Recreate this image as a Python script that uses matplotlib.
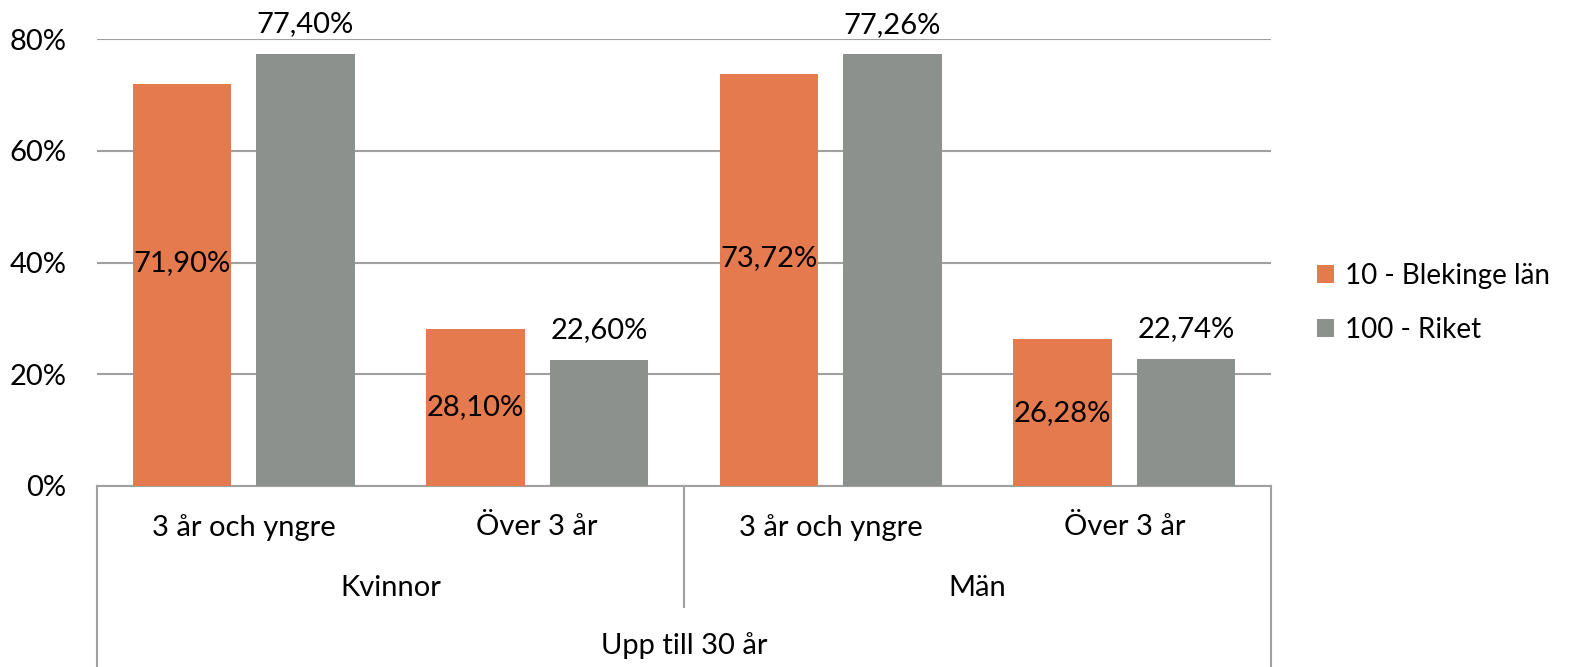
import matplotlib
matplotlib.use("Agg")
import matplotlib.pyplot as plt
import matplotlib.transforms as mtransforms
import numpy as np

# data
categories = ["3 år och yngre", "Över 3 år", "3 år och yngre", "Över 3 år"]
groups = ["Kvinnor", "Män"]
top_group = "Upp till 30 år"
blekinge = [71.90, 28.10, 73.72, 26.28]
riket = [77.40, 22.60, 77.26, 22.74]
series_names = ["10 - Blekinge län", "100 - Riket"]
yticks = [0, 20, 40, 60, 80]

ORANGE = "#E57A4E"
GRAY = "#8C918E"
LINE = "#A0A0A0"

plt.rcParams["font.family"] = ["Lato", "DejaVu Sans"]
plt.rcParams["font.size"] = 21

fig = plt.figure(figsize=(15.71, 6.67), dpi=100)
ax = fig.add_axes([97 / 1571, 1 - 486 / 667, (1271 - 97) / 1571, 447 / 667])

x = np.arange(len(categories))
w = 0.335
off = 0.21
ax.bar(x - off, blekinge, w, color=ORANGE, label=series_names[0], zorder=3)
ax.bar(x + off, riket, w, color=GRAY, label=series_names[1], zorder=3)

fmt = lambda v: "{:.2f}%".format(v).replace(".", ",")
for xi, v in zip(x, blekinge):
    ax.text(xi - off, v / 2 + (4 if v > 50 else 0), fmt(v), ha="center", va="center", zorder=4)
for xi, v in zip(x, riket):
    ax.annotate(fmt(v), (xi + off, v), xytext=(0, 12), textcoords="offset points",
                ha="center", va="bottom", annotation_clip=False)

ax.set_xlim(-0.5, 3.5)
ax.set_ylim(0, 80)
ax.set_yticks(yticks)
ax.set_yticklabels(["{}%".format(t) for t in yticks])
ax.tick_params(axis="y", length=0, pad=22)
ax.tick_params(axis="x", length=0)
ax.set_xticks([])
ax.yaxis.grid(True, color=LINE, linewidth=1.5, zorder=0)
for s in ["top", "right", "left"]:
    ax.spines[s].set_visible(False)
ax.spines["bottom"].set_color(LINE)
ax.spines["bottom"].set_linewidth(1.5)

# multi-level category axis
trans = mtransforms.blended_transform_factory(ax.transData, ax.transAxes)
for xi, c in zip(x, categories):
    ax.text(xi, -0.092, c, transform=trans, ha="center", va="center")
for gi, g in enumerate(groups):
    ax.text(gi * 2 + 0.5, -0.228, g, transform=trans, ha="center", va="center")
ax.text(1.5, -0.356, top_group, transform=trans, ha="center", va="center")
for xv, yb in [(-0.5, -0.41), (1.5, -0.271), (3.5, -0.41)]:
    ax.plot([xv, xv], [0, yb], transform=trans, color=LINE, linewidth=1.5, clip_on=False)

ax.legend(loc="center left", bbox_to_anchor=(1.03, 0.41), borderaxespad=0, frameon=False,
          fontsize=20, handlelength=0.6, handleheight=0.6, handletextpad=0.4, labelspacing=1.0)

fig.savefig("out.png", dpi=100)
